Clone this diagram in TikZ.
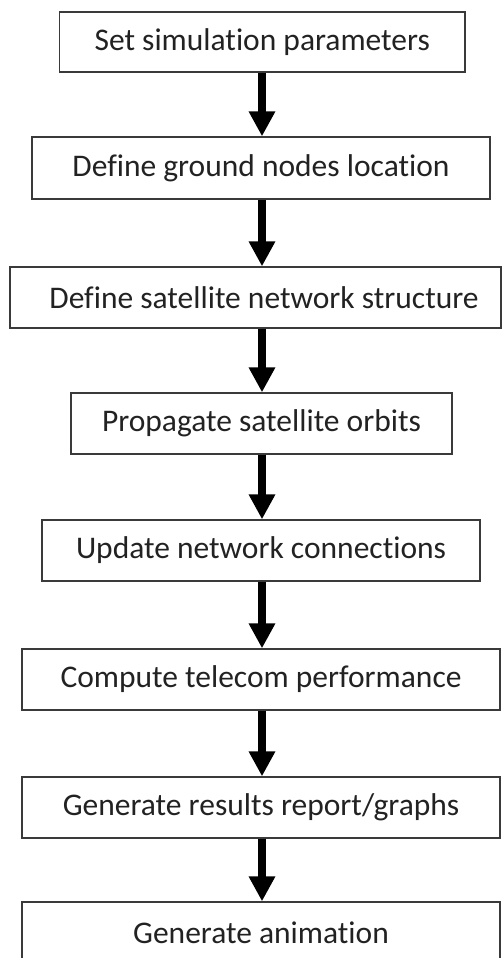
\documentclass[tikz,border=0pt]{standalone}
\usepackage{fontspec}
\setmainfont{Carlito}[Ligatures=NoCommon]
\usetikzlibrary{arrows.meta}
\definecolor{edge}{HTML}{3A3A3A}
\definecolor{ink}{HTML}{222222}
\tikzset{
  stepbox/.style={draw=edge, line width=1.3pt, fill=white, inner sep=0pt,
    text=ink, font=\fontsize{31.5}{34}\selectfont, anchor=center},
  flow/.style={line width=8pt, -{Triangle[width=25pt,length=25pt]}, black}
}
\begin{document}
\begin{tikzpicture}[x=1pt,y=-1pt]
\useasboundingbox (0,0) rectangle (502,958);
\clip (0,0) rectangle (502,958);
\fill[white] (0,0) rectangle (502,958);
% one box per step, placed by its centre and size
\node[stepbox, minimum width=405.5pt, minimum height=60pt] (s1) at (262.25,42) {Set simulation parameters};
\node[stepbox, minimum width=458pt, minimum height=62pt] (s2) at (261,168) {Define ground nodes location};
\node[stepbox, minimum width=491pt, minimum height=61pt] (s3) at (255.5,297.5) {\hspace*{17pt}Define satellite network structure};
\node[stepbox, minimum width=381pt, minimum height=61pt] (s4) at (261.5,423.5) {Propagate satellite orbits};
\node[stepbox, minimum width=438pt, minimum height=61pt] (s5) at (261,550.5) {Update network connections};
\node[stepbox, minimum width=478pt, minimum height=61pt] (s6) at (261,679.5) {Compute telecom performance};
\node[stepbox, minimum width=478pt, minimum height=61pt] (s7) at (261,807.5) {Generate results report/graphs};
\node[stepbox, minimum width=478pt, minimum height=61pt] (s8) at (261,932.5) {Generate animation};
% all arrows run down one vertical axis
\coordinate (axis) at (262,0);
\foreach \a/\b in {s1/s2,s2/s3,s3/s4,s4/s5,s5/s6,s6/s7,s7/s8}
  \draw[flow] (\a.south -| axis) -- (\b.north -| axis);
\end{tikzpicture}
\end{document}
